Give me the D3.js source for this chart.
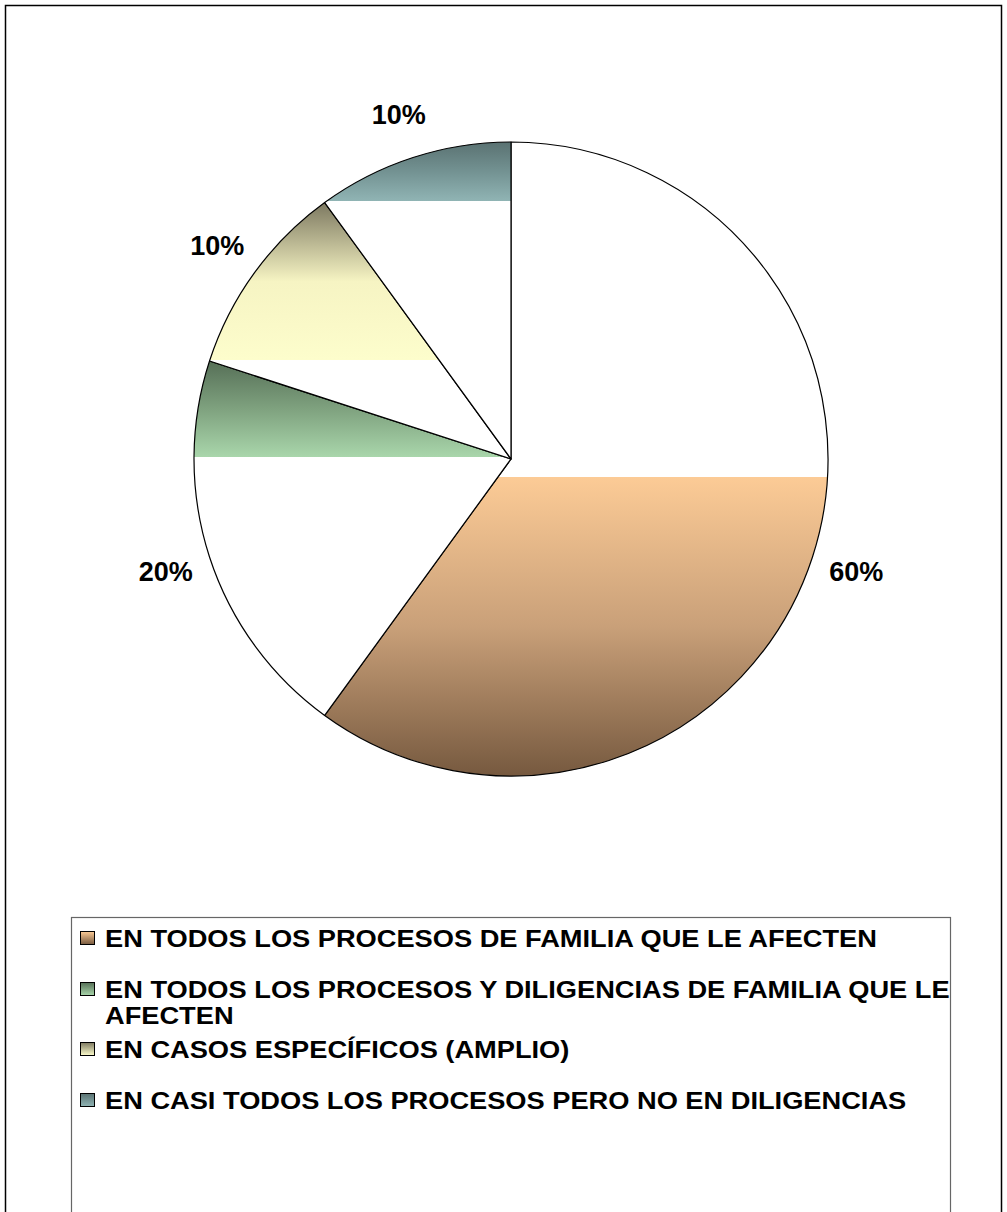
<!DOCTYPE html>
<html>
<head>
<meta charset="utf-8">
<script src="https://cdn.jsdelivr.net/npm/d3@7"></script>
<style>
  body { margin: 0; background: #fff; }
  text { font-family: "Liberation Sans", Arial, sans-serif; font-weight: bold; fill: #000; }
</style>
</head>
<body>
<div id="chart"></div>
<script>
// data
var categories = [
  "EN TODOS LOS PROCESOS DE FAMILIA QUE LE AFECTEN",
  "EN TODOS LOS PROCESOS Y DILIGENCIAS DE FAMILIA QUE LE AFECTEN",
  "EN CASOS ESPECÍFICOS (AMPLIO)",
  "EN CASI TODOS LOS PROCESOS PERO NO EN DILIGENCIAS"
];
var values = [60, 20, 10, 10];
var percentLabels = ["60%", "20%", "10%", "10%"];
// legend lines (the long one wraps)
var legendLines = [
  ["EN TODOS LOS PROCESOS DE FAMILIA QUE LE AFECTEN"],
  ["EN TODOS LOS PROCESOS Y DILIGENCIAS DE FAMILIA QUE LE", "AFECTEN"],
  ["EN CASOS ESPECÍFICOS (AMPLIO)"],
  ["EN CASI TODOS LOS PROCESOS PERO NO EN DILIGENCIAS"]
];

// styles: gradient colours and the vertical band (fraction of radius) where each slice is painted
var gradColours = [
  ["#fccb96", "#c9a079", "#76593f"],
  ["#566f57", "#7fa27f", "#a9d6ab"],
  ["#7d7961", "#f6f4c3", "#fdfdcc"],
  ["#5a7272", "#739292", "#90b4b4"]
];
var bands = [[0.057, 1], [-0.309, -0.006], [-0.808, -0.312], [-1, -0.814]];

var width = 1007, height = 1212;
var cx = 511, cy = 459, radius = 317;

var svg = d3.select('#chart').append('svg')
    .attr('width', width)
    .attr('height', height);

svg.append('rect')
    .attr('x', 5.5).attr('y', 5.5)
    .attr('width', 996).attr('height', 1212)
    .style('fill', '#fff')
    .style('stroke', '#000')
    .style('stroke-width', 1.5);

var defs = svg.append('defs');

// full-height gradients with white outside the band
gradColours.forEach(function(c, i) {
  var t = (bands[i][0] + 1) / 2, b = (bands[i][1] + 1) / 2;
  var g = defs.append('linearGradient')
      .attr('id', 'grad' + i)
      .attr('gradientUnits', 'userSpaceOnUse')
      .attr('x1', 0).attr('y1', -radius)
      .attr('x2', 0).attr('y2', radius);
  var stops = [
    [0, '#fff'], [t, '#fff'], [t, c[0]], [(t + b) / 2, c[1]],
    [b, c[2]], [b, '#fff'], [1, '#fff']
  ];
  stops.forEach(function(s) {
    g.append('stop').attr('offset', s[0]).attr('stop-color', s[1]);
  });
  // legend swatch gradient
  var lg = defs.append('linearGradient')
      .attr('id', 'lgrad' + i)
      .attr('x1', 0).attr('y1', 0).attr('x2', 0).attr('y2', 1);
  lg.append('stop').attr('offset', 0).attr('stop-color', c[0]);
  lg.append('stop').attr('offset', 1).attr('stop-color', c[2]);
});

var pie = d3.pie().sort(null).value(function(d) { return d; });
var arcs = pie(values);

var arc = d3.arc().innerRadius(0).outerRadius(radius);
var labelArc = d3.arc().innerRadius(radius + 46).outerRadius(radius + 46);

var wrapper = svg.append('g')
    .attr('transform', 'translate(' + cx + ',' + cy + ')');

wrapper.selectAll('path')
    .data(arcs)
  .enter().append('path')
    .attr('d', arc)
    .style('fill', function(d, i) { return 'url(#grad' + i + ')'; })
    .style('stroke', '#000')
    .style('stroke-width', 1.2)
    .style('stroke-linejoin', 'round');

wrapper.selectAll('.pct')
    .data(arcs)
  .enter().append('text')
    .attr('class', 'pct')
    .attr('transform', function(d) { return 'translate(' + labelArc.centroid(d) + ')'; })
    .attr('dy', '0.36em')
    .style('text-anchor', 'middle')
    .style('font-size', '27px')
    .text(function(d, i) { return percentLabels[i]; });

// legend
var legendBox = {x: 71.5, y: 917.5, w: 879, h: 300};
svg.append('rect')
    .attr('x', legendBox.x).attr('y', legendBox.y)
    .attr('width', legendBox.w).attr('height', legendBox.h)
    .style('fill', '#fff')
    .style('stroke', '#666')
    .style('stroke-width', 1.2);

var rowY = [938, 989, 1049, 1100];
var lineGap = 26;

var legend = svg.selectAll('.legend')
    .data(categories)
  .enter().append('g')
    .attr('class', 'legend')
    .attr('transform', function(d, i) { return 'translate(0,' + rowY[i] + ')'; });

legend.append('rect')
    .attr('x', 80.5).attr('y', -6.5)
    .attr('width', 14).attr('height', 13)
    .style('fill', function(d, i) { return 'url(#lgrad' + i + ')'; })
    .style('stroke', '#000')
    .style('stroke-width', 1);

// legend text is drawn slightly wide, as in the original
legend.each(function(d, i) {
  var t = d3.select(this).append('g')
      .attr('transform', 'translate(105,0) scale(1.135,1)')
    .append('text')
      .style('font-size', '24px');
  legendLines[i].forEach(function(line, j) {
    t.append('tspan')
        .attr('x', 0)
        .attr('dy', j === 0 ? '0.36em' : lineGap)
        .text(line);
  });
});
</script>
</body>
</html>
